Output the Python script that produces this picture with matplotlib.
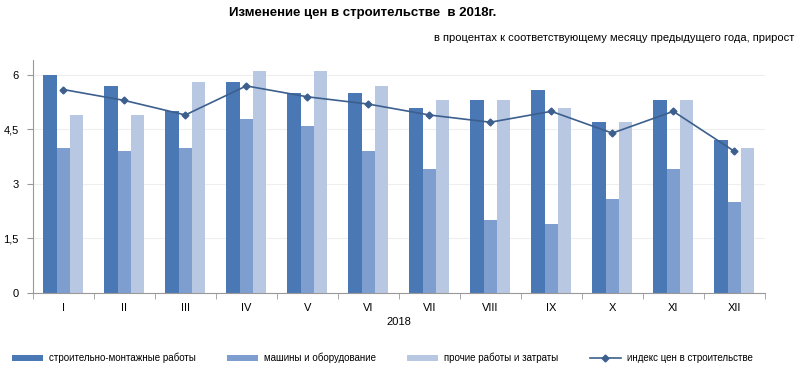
import matplotlib
matplotlib.use("Agg")
import matplotlib.pyplot as plt
import numpy as np

months = ["I", "II", "III", "IV", "V", "VI", "VII", "VIII", "IX", "X", "XI", "XII"]
construction_works = [6.0, 5.7, 5.0, 5.8, 5.5, 5.5, 5.1, 5.3, 5.6, 4.7, 5.3, 4.2]
machinery = [4.0, 3.9, 4.0, 4.8, 4.6, 3.9, 3.4, 2.0, 1.9, 2.6, 3.4, 2.5]
other_costs = [4.9, 4.9, 5.8, 6.1, 6.1, 5.7, 5.3, 5.3, 5.1, 4.7, 5.3, 4.0]
price_index = [5.6, 5.3, 4.9, 5.7, 5.4, 5.2, 4.9, 4.7, 5.0, 4.4, 5.0, 3.9]
yticks = [0, 1.5, 3, 4.5, 6]

plt.rcParams["font.family"] = ["Liberation Sans Narrow", "Liberation Sans", "DejaVu Sans"]

fig = plt.figure(figsize=(8, 3.78), dpi=100)
ax = fig.add_axes([0.041, 0.225, 0.915, 0.615])

x = np.arange(len(months))
w = 0.22
b1 = ax.bar(x - w, construction_works, w, color="#4A78B4", zorder=2)
b2 = ax.bar(x, machinery, w, color="#7E9ECF", zorder=2)
b3 = ax.bar(x + w, other_costs, w, color="#B8C8E2", zorder=2)
ln, = ax.plot(x, price_index, color="#3C5F8E", lw=1.2, marker="D", markersize=3.5, zorder=3)

ax.set_xlim(-0.5, len(months) - 0.5)
ax.set_ylim(0, 6.4)
ax.set_yticks(yticks)
ax.set_yticklabels(["0", "1,5", "3", "4,5", "6"], fontsize=8)
ax.set_xticks(x)
ax.set_xticklabels(months, fontsize=8)
ax.set_xticks(np.arange(-0.5, len(months)), minor=True)
ax.tick_params(axis="x", which="major", length=0, pad=7)
ax.tick_params(axis="x", which="minor", length=4, color="#999999")
ax.tick_params(axis="y", length=4, color="#999999", pad=6)
ax.set_xlabel("2018", fontsize=8, labelpad=3)
ax.grid(axis="y", color="#EEEEEE", lw=0.8, zorder=0)
for s in ["top", "right"]:
    ax.spines[s].set_visible(False)
for s in ["left", "bottom"]:
    ax.spines[s].set_color("#999999")

fig.text(0.453, 0.965, "Изменение цен в строительстве  в 2018г.", fontsize=9.5,
         fontweight="bold", ha="center", va="center")
fig.text(0.993, 0.9, "в процентах к соответствующему месяцу предыдущего года, прирост",
         fontsize=8, ha="right", va="center")

handles = [b1, b2, b3, ln]
labels = ["строительно-монтажные работы", "машины и оборудование",
          "прочие работы и затраты", "индекс цен в строительстве"]
fig.legend(handles, labels, loc="center", bbox_to_anchor=(0.478, 0.053), ncol=4,
           frameon=False, fontsize=7, handlelength=3.2, handleheight=0.6,
           handletextpad=0.6, columnspacing=3.2)

fig.savefig("out.png", dpi=100)
